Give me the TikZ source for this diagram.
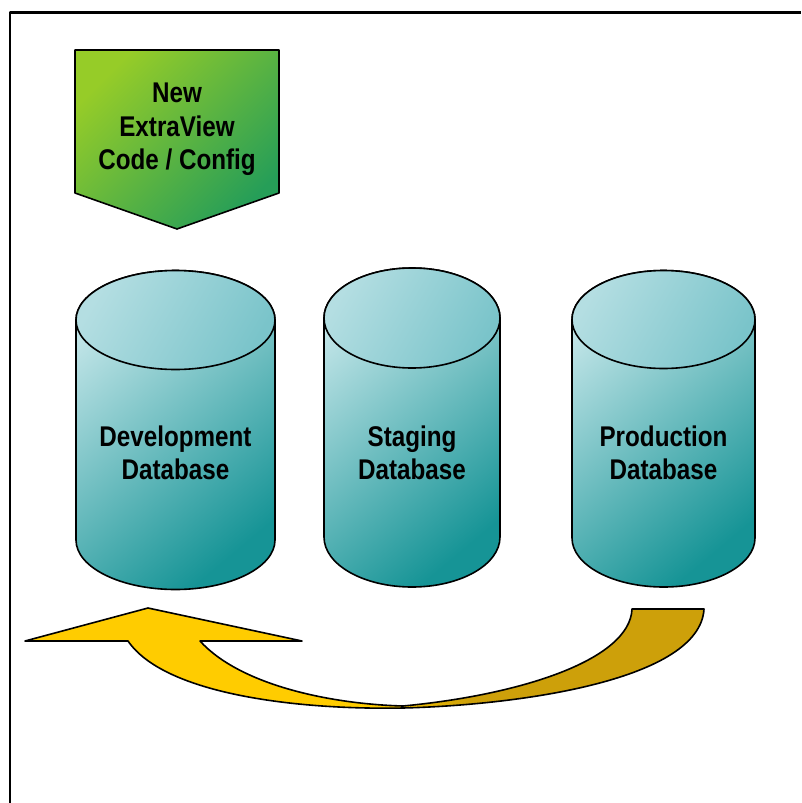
\documentclass[tikz,border=0pt]{standalone}
\usepackage{fontspec}
\newfontfamily\labfont[FakeStretch=0.85]{Liberation Sans}
\definecolor{limeG}{RGB}{150,204,40}
\definecolor{darkG}{RGB}{38,158,88}
\definecolor{cylLight}{RGB}{192,228,231}
\definecolor{cylDark}{RGB}{22,148,150}
\definecolor{capLight}{RGB}{180,222,226}
\definecolor{capDark}{RGB}{122,196,202}
\definecolor{arrowY}{RGB}{255,204,0}
\definecolor{arrowG}{RGB}{205,160,10}
\newcommand\arrowshape{(25,641) -- (148,608) -- (302,641) -- (200,641)
  .. controls (240,685) and (330,704) .. (403,706)
  .. controls (520,695) and (630,660) .. (632,609)
  -- (704,609)
  .. controls (700,680) and (520,705) .. (403,708)
  .. controls (300,710) and (165,695) .. (128,641) -- cycle}
\tikzset{
  lab/.style={font=\labfont\bfseries\fontsize{28.5}{33.5}\selectfont, align=center, inner sep=0pt, text=black},
  outline/.style={draw=black, line width=1.6pt},
  body/.style={outline, top color=cylLight, bottom color=cylDark, shading angle=40},
  capfill/.style={outline, top color=capLight, bottom color=capDark, shading angle=60},
  greenbox/.style={outline, top color=limeG, bottom color=darkG, shading angle=45}
}
\begin{document}
\begin{tikzpicture}[x=1pt,y=-1pt,line join=round]
\useasboundingbox (0,0) rectangle (801,803);
\fill[white] (0,0) rectangle (801,803);
\draw[line width=2.2pt] (10,803) -- (10,12.5) -- (801,12.5);

% green pentagon
\shadedraw[greenbox] (75,50) -- (279,50) -- (279,193) -- (177,229) -- (75,193) -- cycle;
\node[lab] (code) at (177,129.5) {New\\ExtraView\\Code / Config};

% cylinders
\foreach \cx/\rx/\ty/\by/\ry in {175.5/99.5/320/540/49.5, 412/88/318/537/50, 663.5/91.5/319.5/538/49}{
  \shadedraw[body] (\cx-\rx,\ty) -- (\cx-\rx,\by)
     arc[start angle=180, end angle=0, x radius=\rx, y radius=\ry]
     -- (\cx+\rx,\ty)
     arc[start angle=360, end angle=180, x radius=\rx, y radius=\ry] -- cycle;
  \shadedraw[capfill] (\cx,\ty) ellipse[x radius=\rx, y radius=\ry];
}
\node[lab] (dev) at (175.5,453) {Development\\Database};
\node[lab] (stg) at (412,453) {Staging\\Database};
\node[lab] (prod) at (663.5,453) {Production\\Database};

% curved arrow
\begin{scope}
  \clip \arrowshape;
  \fill[arrowY] (0,590) rectangle (801,720);
  \shade[left color=arrowY, right color=arrowG] (380,590) rectangle (470,720);
  \fill[arrowG] (470,590) rectangle (801,720);
\end{scope}
\draw[line width=1.6pt] \arrowshape;
\end{tikzpicture}
\end{document}
